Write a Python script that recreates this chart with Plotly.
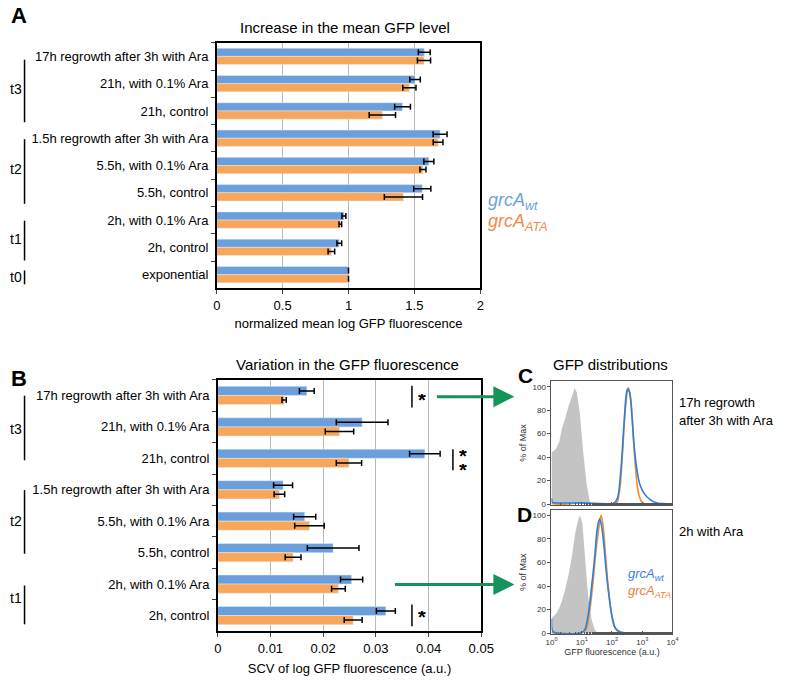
import plotly.graph_objects as go

# Panel A: increase in mean GFP level (top to bottom)
cats_a = ['17h regrowth after 3h with Ara', '21h, with 0.1% Ara', '21h, control',
          '1.5h regrowth after 3h with Ara', '5.5h, with 0.1% Ara', '5.5h, control',
          '2h, with 0.1% Ara', '2h, control', 'exponential']
wt_a = [1.575, 1.505, 1.41, 1.695, 1.61, 1.56, 0.965, 0.93, 1.0]
wt_a_err = [0.045, 0.04, 0.06, 0.053, 0.038, 0.065, 0.015, 0.018, 0.0]
ata_a = [1.573, 1.462, 1.257, 1.68, 1.565, 1.417, 0.938, 0.87, 1.0]
ata_a_err = [0.05, 0.05, 0.1, 0.037, 0.023, 0.145, 0.01, 0.025, 0.0]

# Panel B: SCV of log GFP fluorescence (top to bottom)
cats_b = cats_a[:8]
wt_b = [0.0169, 0.0274, 0.0393, 0.0124, 0.0165, 0.0219, 0.0254, 0.0319]
wt_b_err = [0.0014, 0.0049, 0.0029, 0.0018, 0.0021, 0.0049, 0.0021, 0.0018]
ata_b = [0.0126, 0.0231, 0.0249, 0.0117, 0.0174, 0.0143, 0.0229, 0.0257]
ata_b_err = [0.0004, 0.0027, 0.0024, 0.001, 0.0028, 0.0015, 0.0013, 0.0017]

# Panel C: 17h regrowth after 3h with Ara (GFP a.u., % of max)
c_bg_x = [1, 1.4, 1.8, 2.2, 2.9, 3.7, 4.8, 5.8, 6.9, 8.7, 11, 14.5, 18.5, 21]
c_bg_y = [44, 47, 53, 64, 74, 84, 92, 99, 95, 77, 46, 17, 2, 0]
c_wt_x = [1, 1.07, 1.26, 10, 117, 151, 191, 245, 302, 331, 380, 457, 537, 661, 851,
          1230, 1778, 2884, 4786, 10000]
c_wt_y = [5, 1.5, 1, 1, 1, 5, 25, 65, 95, 98, 95, 75, 50, 30, 16, 8, 4, 1, 0.3, 0]
c_ata_x = [1, 132, 170, 219, 275, 347, 407, 501, 603, 741, 955, 1380, 10000]
c_ata_y = [0.5, 0, 8, 40, 80, 99, 92, 60, 30, 10, 2, 0, 0]

# Panel D: 2h with Ara
d_bg_x = [1, 1.38, 1.78, 2.24, 2.88, 3.7, 4.8, 6.0, 7.8, 8.7, 10.5, 12.6, 16.2, 20.9, 26.9, 33.9]
d_bg_y = [13, 16, 21, 28, 38, 50, 66, 84, 97, 100, 93, 66, 32, 12, 3, 0]
d_wt_x = [1, 1.05, 1.2, 10, 12.6, 16.2, 20.9, 26.9, 32.4, 38.9, 43.7, 53.7, 63.1, 81.3,
          105, 132, 191, 316, 10000]
d_wt_y = [12, 3, 0.8, 0.5, 3, 15, 38, 65, 88, 97, 93, 75, 55, 30, 12, 4, 1, 0, 0]
d_ata_x = [1, 12.6, 17, 22.9, 30.2, 38, 43.7, 50.1, 61.7, 75.9, 97.7, 123, 170, 245, 10000]
d_ata_y = [0.5, 2, 14, 40, 72, 92, 100, 92, 65, 38, 15, 5, 1, 0, 0]

BLUE = '#6a9fdc'
ORANGE = '#f8a65a'
HIST_BLUE = '#2c7fe0'
HIST_ORANGE = '#f28c2c'
GREEN = '#14935a'
FONT = 'Liberation Sans, Arial, sans-serif'

W, H = 786, 681


def px(x):
    return x / W


def py(y):
    return 1 - y / H


fig = go.Figure()

# bars
for cats, wt, wte, ata, atae, xa, ya, w in [
        (cats_a, wt_a, wt_a_err, ata_a, ata_a_err, 'x', 'y', 0.3),
        (cats_b, wt_b, wt_b_err, ata_b, ata_b_err, 'x2', 'y2', 0.29)]:
    fig.add_trace(go.Bar(y=cats, x=wt, orientation='h', marker_color=BLUE, width=w, offset=-w,
                         error_x=dict(type='data', array=wte, color='black', thickness=1.5, width=3),
                         xaxis=xa, yaxis=ya, showlegend=False))
    fig.add_trace(go.Bar(y=cats, x=ata, orientation='h', marker_color=ORANGE, width=w, offset=0,
                         error_x=dict(type='data', array=atae, color='black', thickness=1.5, width=3),
                         xaxis=xa, yaxis=ya, showlegend=False))

# histograms
for bx, by, ox, oy, wx, wy, xa, ya in [
        (c_bg_x, c_bg_y, c_ata_x, c_ata_y, c_wt_x, c_wt_y, 'x3', 'y3'),
        (d_bg_x, d_bg_y, d_ata_x, d_ata_y, d_wt_x, d_wt_y, 'x4', 'y4')]:
    fig.add_trace(go.Scatter(x=bx, y=by, fill='tozeroy', fillcolor='#c4c4c4', mode='lines',
                             line=dict(width=0, color='#c4c4c4'), xaxis=xa, yaxis=ya, showlegend=False))
    fig.add_trace(go.Scatter(x=ox, y=oy, mode='lines', line=dict(color=HIST_ORANGE, width=1.6, shape='spline'),
                             xaxis=xa, yaxis=ya, showlegend=False))
    fig.add_trace(go.Scatter(x=wx, y=wy, mode='lines', line=dict(color=HIST_BLUE, width=1.6, shape='spline'),
                             xaxis=xa, yaxis=ya, showlegend=False))

tick_font = dict(family=FONT, size=13, color='black')
bar_x = dict(showline=True, mirror=True, linecolor='black', linewidth=1.5, ticks='outside', ticklen=4,
             showgrid=True, gridcolor='#b8b8b8', gridwidth=1, zeroline=False, tickfont=tick_font)
bar_y = dict(type='category', showline=True, mirror=True, linecolor='black', linewidth=1.5,
             ticks='outside', ticklen=4, tickson='boundaries', showgrid=False, tickfont=tick_font,
             ticklabelstandoff=4)
small = dict(family=FONT, size=8, color='#333')
hist_x = dict(type='log', range=[0, 4], showline=True, mirror=True, linecolor='#555', linewidth=1,
              ticks='inside', ticklen=3, tickcolor='#555', tickvals=[1, 10, 100, 1000, 10000],
              ticktext=['10<sup>0</sup>', '10<sup>1</sup>', '10<sup>2</sup>', '10<sup>3</sup>', '10<sup>4</sup>'],
              minor=dict(ticks='inside', ticklen=2, tickcolor='#555'),
              showgrid=False, zeroline=False, tickfont=small)
hist_y = dict(showline=True, mirror=True, linecolor='#555', linewidth=1, ticks='outside', ticklen=3,
              tickcolor='#555', tickvals=[0, 20, 40, 60, 80, 100], showgrid=False, zeroline=False,
              tickfont=small, title=dict(text='% of Max', font=dict(family=FONT, size=9, color='#333'),
                                         standoff=4))

fig.update_layout(
    width=W, height=H, margin=dict(l=0, r=0, t=0, b=0),
    paper_bgcolor='white', plot_bgcolor='white', barmode='overlay',
    font=dict(family=FONT, color='black'),
    xaxis=dict(bar_x, domain=[px(216), px(486)], range=[0, 2], anchor='y',
               tickvals=[0, 0.5, 1, 1.5, 2], ticktext=['0', '0.5', '1', '1.5', '2'],
               title=dict(text='normalized mean log GFP fluorescence', font=tick_font, standoff=7)),
    yaxis=dict(bar_y, domain=[py(290), py(43)], categoryarray=cats_a, range=[8.5, -0.5], anchor='x'),
    xaxis2=dict(bar_x, domain=[px(217), px(487)], range=[0, 0.05], anchor='y2',
                tickvals=[0, 0.01, 0.02, 0.03, 0.04, 0.05],
                ticktext=['0', '0.01', '0.02', '0.03', '0.04', '0.05'],
                title=dict(text='SCV of log GFP fluorescence (a.u.)', font=tick_font, standoff=9)),
    yaxis2=dict(bar_y, domain=[py(635), py(382)], categoryarray=cats_b, range=[7.5, -0.5], anchor='x2'),
    xaxis3=dict(hist_x, domain=[px(559), px(683)], anchor='y3', showticklabels=False),
    yaxis3=dict(hist_y, domain=[py(508), py(383)], range=[-0.85, 105.1], anchor='x3'),
    xaxis4=dict(hist_x, domain=[px(559), px(683)], anchor='y4',
                title=dict(text='GFP fluorescence (a.u.)', font=dict(family=FONT, size=9, color='#333'),
                           standoff=2)),
    yaxis4=dict(hist_y, domain=[py(638), py(513)], range=[-0.84, 104.4], anchor='x4'),
)

ann = []


def text(x, y, s, size=13, xanchor='center', color='black', **kw):
    ann.append(dict(x=px(x), y=py(y), xref='paper', yref='paper', text=s, showarrow=False,
                    xanchor=xanchor, yanchor='middle', font=dict(family=FONT, size=size, color=color), **kw))


# panel letters and titles
text(13, 16, '<b>A</b>', 22)
text(13, 381, '<b>B</b>', 22)
text(532, 378, '<b>C</b>', 21)
text(531, 518, '<b>D</b>', 21)
text(347, 28, 'Increase in the mean GFP level', 15)
text(350, 367, 'Variation in the GFP fluorescence', 15)
text(619, 367, 'GFP distributions', 15)
text(688, 405, '17h regrowth', 13, 'left')
text(688, 423, 'after 3h with Ara', 13, 'left')
text(688, 535, '2h with Ara', 13, 'left')

# legends
text(492, 203, '<i>grcA<sub>wt</sub></i>', 18, 'left', '#6ea3d8')
text(492, 224, '<i>grcA<sub>ATA</sub></i>', 18, 'left', '#ef8a4a')
text(635, 578, '<i>grcA<sub>wt</sub></i>', 13, 'left', '#3a7fd8')
text(635, 595, '<i>grcA<sub>ATA</sub></i>', 13, 'left', '#f0803a')

# group labels
shapes = []
for label, ly, y0, y1 in [('t3', 90, 60, 123), ('t2', 170, 140, 205), ('t1', 240, 222, 262),
                          ('t0', 279, 272, 286),
                          ('t3', 432, 398, 463), ('t2', 524, 493, 557), ('t1', 602, 589, 628)]:
    text(10, ly, label, 14)
    shapes.append(dict(type='line', xref='paper', yref='paper', x0=px(19), x1=px(19), y0=py(y0), y1=py(y1),
                       line=dict(color='black', width=1.5)))

# significance marks
for lx, y0, y1, marks in [(416, 388, 410, [(426, 399)]), (458, 452, 473, [(468, 456), (468, 470)]),
                          (416, 608, 630, [(426, 618)])]:
    shapes.append(dict(type='line', xref='paper', yref='paper', x0=px(lx), x1=px(lx), y0=py(y0), y1=py(y1),
                       line=dict(color='black', width=1.5)))
    for mx, my in marks:
        text(mx, my + 3, '<b>*</b>', 20, height=12)

# arrows to panels C and D
for x0, y in [(442, 399), (400, 588)]:
    ann.append(dict(x=px(521), y=py(y), ax=x0 - 521, ay=0, xref='paper', yref='paper',
                    axref='pixel', ayref='pixel', showarrow=True, arrowhead=2, arrowsize=1.4,
                    arrowwidth=3, arrowcolor=GREEN, text=''))

fig.update_layout(annotations=ann, shapes=shapes)

# pin the page to the window size so nothing scrolls or rescales
page_css = ("var s=document.documentElement.style;s.margin='0';s.overflow='hidden';"
            "s.height='681px';s.width='786px';"
            "var b=document.body.style;b.margin='0';b.overflow='hidden';b.height='681px';b.width='786px';")
fig.write_html('out.html', config={'displayModeBar': False}, post_script=page_css)
